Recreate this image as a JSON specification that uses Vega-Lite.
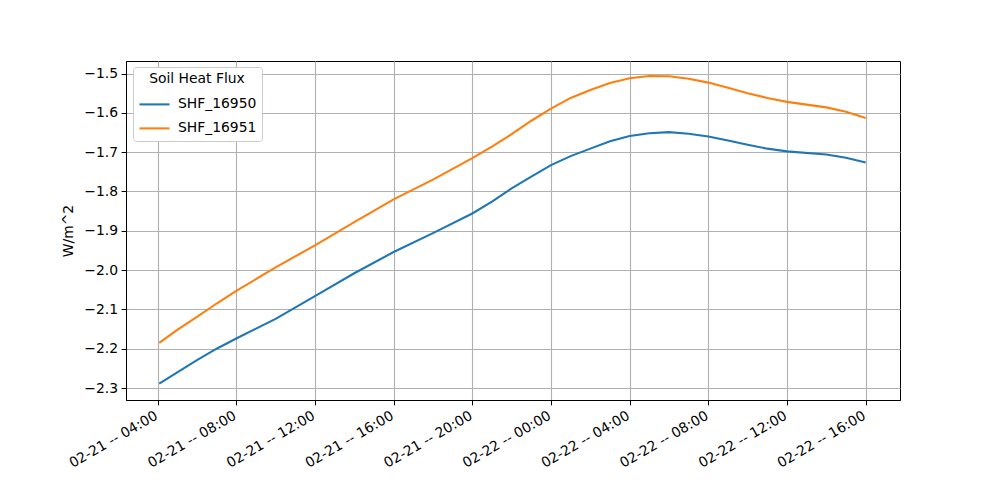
{
  "$schema": "https://vega.github.io/schema/vega-lite/v6.json",
  "width": 774,
  "height": 339,
  "autosize": {"type": "none"},
  "padding": {"left": 126, "top": 61, "right": 100, "bottom": 100},
  "background": "white",
  "config": {
    "font": "DejaVu Sans",
    "view": {"stroke": "black", "strokeWidth": 1},
    "axis": {
      "labelFont": "DejaVu Sans",
      "labelFontSize": 13.9,
      "labelColor": "black",
      "titleFont": "DejaVu Sans",
      "titleFontSize": 13.9,
      "titleFontWeight": "normal",
      "titleColor": "black",
      "domainColor": "black",
      "tickColor": "black",
      "tickSize": 4.9,
      "tickWidth": 1,
      "labelPadding": 3.5,
      "gridColor": "#b0b0b0",
      "gridWidth": 1.1,
      "gridOpacity": 1
    }
  },
  "data": {
    "values": [
      {"time": "2024-02-21T04:05:00", "series": "SHF_16950", "value": -2.289},
      {"time": "2024-02-21T05:00:00", "series": "SHF_16950", "value": -2.260},
      {"time": "2024-02-21T06:00:00", "series": "SHF_16950", "value": -2.229},
      {"time": "2024-02-21T07:00:00", "series": "SHF_16950", "value": -2.200},
      {"time": "2024-02-21T08:00:00", "series": "SHF_16950", "value": -2.174},
      {"time": "2024-02-21T10:00:00", "series": "SHF_16950", "value": -2.124},
      {"time": "2024-02-21T12:00:00", "series": "SHF_16950", "value": -2.066},
      {"time": "2024-02-21T14:00:00", "series": "SHF_16950", "value": -2.008},
      {"time": "2024-02-21T16:00:00", "series": "SHF_16950", "value": -1.954},
      {"time": "2024-02-21T18:00:00", "series": "SHF_16950", "value": -1.906},
      {"time": "2024-02-21T20:00:00", "series": "SHF_16950", "value": -1.856},
      {"time": "2024-02-21T21:00:00", "series": "SHF_16950", "value": -1.826},
      {"time": "2024-02-21T22:00:00", "series": "SHF_16950", "value": -1.792},
      {"time": "2024-02-21T23:00:00", "series": "SHF_16950", "value": -1.762},
      {"time": "2024-02-22T00:00:00", "series": "SHF_16950", "value": -1.733},
      {"time": "2024-02-22T01:00:00", "series": "SHF_16950", "value": -1.710},
      {"time": "2024-02-22T02:00:00", "series": "SHF_16950", "value": -1.691},
      {"time": "2024-02-22T03:00:00", "series": "SHF_16950", "value": -1.672},
      {"time": "2024-02-22T04:00:00", "series": "SHF_16950", "value": -1.659},
      {"time": "2024-02-22T05:00:00", "series": "SHF_16950", "value": -1.652},
      {"time": "2024-02-22T06:00:00", "series": "SHF_16950", "value": -1.649},
      {"time": "2024-02-22T07:00:00", "series": "SHF_16950", "value": -1.653},
      {"time": "2024-02-22T08:00:00", "series": "SHF_16950", "value": -1.660},
      {"time": "2024-02-22T09:00:00", "series": "SHF_16950", "value": -1.670},
      {"time": "2024-02-22T10:00:00", "series": "SHF_16950", "value": -1.681},
      {"time": "2024-02-22T11:00:00", "series": "SHF_16950", "value": -1.691},
      {"time": "2024-02-22T12:00:00", "series": "SHF_16950", "value": -1.698},
      {"time": "2024-02-22T14:00:00", "series": "SHF_16950", "value": -1.706},
      {"time": "2024-02-22T15:00:00", "series": "SHF_16950", "value": -1.714},
      {"time": "2024-02-22T16:00:00", "series": "SHF_16950", "value": -1.726},
      {"time": "2024-02-21T04:05:00", "series": "SHF_16951", "value": -2.185},
      {"time": "2024-02-21T05:00:00", "series": "SHF_16951", "value": -2.152},
      {"time": "2024-02-21T06:00:00", "series": "SHF_16951", "value": -2.119},
      {"time": "2024-02-21T07:00:00", "series": "SHF_16951", "value": -2.085},
      {"time": "2024-02-21T08:00:00", "series": "SHF_16951", "value": -2.053},
      {"time": "2024-02-21T10:00:00", "series": "SHF_16951", "value": -1.993},
      {"time": "2024-02-21T12:00:00", "series": "SHF_16951", "value": -1.937},
      {"time": "2024-02-21T14:00:00", "series": "SHF_16951", "value": -1.878},
      {"time": "2024-02-21T16:00:00", "series": "SHF_16951", "value": -1.820},
      {"time": "2024-02-21T18:00:00", "series": "SHF_16951", "value": -1.770},
      {"time": "2024-02-21T20:00:00", "series": "SHF_16951", "value": -1.715},
      {"time": "2024-02-21T21:00:00", "series": "SHF_16951", "value": -1.686},
      {"time": "2024-02-21T22:00:00", "series": "SHF_16951", "value": -1.654},
      {"time": "2024-02-21T23:00:00", "series": "SHF_16951", "value": -1.620},
      {"time": "2024-02-22T00:00:00", "series": "SHF_16951", "value": -1.589},
      {"time": "2024-02-22T01:00:00", "series": "SHF_16951", "value": -1.562},
      {"time": "2024-02-22T02:00:00", "series": "SHF_16951", "value": -1.542},
      {"time": "2024-02-22T03:00:00", "series": "SHF_16951", "value": -1.524},
      {"time": "2024-02-22T04:00:00", "series": "SHF_16951", "value": -1.512},
      {"time": "2024-02-22T05:00:00", "series": "SHF_16951", "value": -1.506},
      {"time": "2024-02-22T06:00:00", "series": "SHF_16951", "value": -1.507},
      {"time": "2024-02-22T07:00:00", "series": "SHF_16951", "value": -1.513},
      {"time": "2024-02-22T08:00:00", "series": "SHF_16951", "value": -1.523},
      {"time": "2024-02-22T09:00:00", "series": "SHF_16951", "value": -1.536},
      {"time": "2024-02-22T10:00:00", "series": "SHF_16951", "value": -1.550},
      {"time": "2024-02-22T11:00:00", "series": "SHF_16951", "value": -1.562},
      {"time": "2024-02-22T12:00:00", "series": "SHF_16951", "value": -1.572},
      {"time": "2024-02-22T14:00:00", "series": "SHF_16951", "value": -1.586},
      {"time": "2024-02-22T15:00:00", "series": "SHF_16951", "value": -1.597},
      {"time": "2024-02-22T16:00:00", "series": "SHF_16951", "value": -1.613}
    ]
  },
  "mark": {"type": "line", "strokeWidth": 2.08, "clip": true},
  "encoding": {
    "x": {
      "field": "time",
      "type": "temporal",
      "scale": {
        "domain": [
          {"year": 2024, "month": 2, "date": 21, "hours": 2, "minutes": 23, "seconds": 36},
          {"year": 2024, "month": 2, "date": 22, "hours": 17, "minutes": 44, "seconds": 42}
        ],
        "nice": false
      },
      "axis": {
        "title": null,
        "grid": true,
        "format": "%m-%d -- %H:%M",
        "labelAngle": -30,
        "labelAlign": "right",
        "labelBaseline": "top",
        "labelOverlap": false,
        "labelFlush": false,
        "labelOffset": -5,
        "values": [
          {"year": 2024, "month": 2, "date": 21, "hours": 4},
          {"year": 2024, "month": 2, "date": 21, "hours": 8},
          {"year": 2024, "month": 2, "date": 21, "hours": 12},
          {"year": 2024, "month": 2, "date": 21, "hours": 16},
          {"year": 2024, "month": 2, "date": 21, "hours": 20},
          {"year": 2024, "month": 2, "date": 22, "hours": 0},
          {"year": 2024, "month": 2, "date": 22, "hours": 4},
          {"year": 2024, "month": 2, "date": 22, "hours": 8},
          {"year": 2024, "month": 2, "date": 22, "hours": 12},
          {"year": 2024, "month": 2, "date": 22, "hours": 16}
        ]
      }
    },
    "y": {
      "field": "value",
      "type": "quantitative",
      "scale": {"domain": [-2.3305, -1.468], "nice": false, "zero": false},
      "axis": {
        "title": "W/m^2",
        "grid": true,
        "format": ".1f",
        "values": [-2.3, -2.2, -2.1, -2.0, -1.9, -1.8, -1.7, -1.6, -1.5],
        "titlePadding": 8
      }
    },
    "color": {
      "field": "series",
      "type": "nominal",
      "scale": {"domain": ["SHF_16950", "SHF_16951"], "range": ["#1f77b4", "#ff7f0e"]},
      "legend": {
        "title": "Soil Heat Flux",
        "orient": "none",
        "legendX": 7,
        "legendY": 6,
        "padding": 5,
        "fillColor": "white",
        "strokeColor": "#cccccc",
        "cornerRadius": 3,
        "titleFont": "DejaVu Sans",
        "titleFontSize": 13.9,
        "titleFontWeight": "normal",
        "titleColor": "black",
        "titleAnchor": "middle",
        "titlePadding": 2,
        "labelFont": "DejaVu Sans",
        "labelFontSize": 13.9,
        "labelColor": "black",
        "symbolType": "stroke",
        "symbolSize": 900,
        "symbolStrokeWidth": 2.08,
        "labelOffset": 7,
        "rowPadding": -10
      }
    }
  }
}
